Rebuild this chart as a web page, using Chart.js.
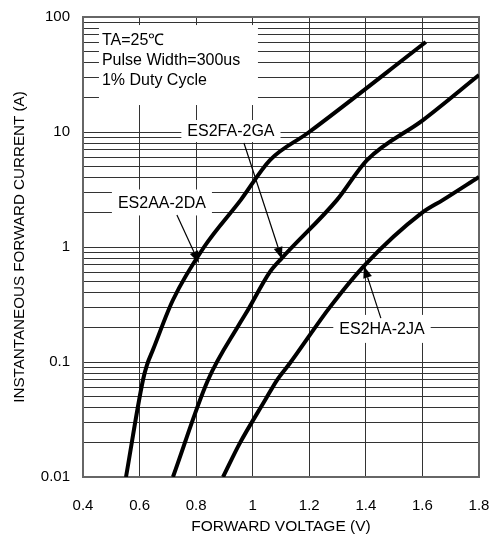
<!DOCTYPE html>
<html>
<head>
<meta charset="utf-8">
<script src="https://cdn.jsdelivr.net/npm/chart.js@4.4.0/dist/chart.umd.min.js"></script>
<style>
  body { margin: 0; background: #fff; }
  #wrap { width: 497px; height: 538px; position: relative; }
</style>
</head>
<body>
<div id="wrap"><canvas id="ivChart"></canvas></div>
<script>
// Forward voltage (V) -> instantaneous forward current (A)
const seriesNames = ['ES2AA-2DA', 'ES2FA-2GA', 'ES2HA-2JA'];

const aaVolts = [0.552, 0.612, 0.626, 0.647, 0.718, 0.828, 0.958, 1.061, 1.195, 1.612];
const aaAmps  = [0.01, 0.0697, 0.094, 0.127, 0.346, 1.0, 2.57, 5.7, 9.8, 60.6];

const faVolts = [0.718, 0.842, 0.955, 0.983, 1.061, 1.103, 1.298, 1.404, 1.602, 1.8];
const faAmps  = [0.01, 0.0697, 0.218, 0.283, 0.607, 0.80, 2.57, 5.7, 12.7, 31.3];

const haVolts = [0.895, 0.955, 1.044, 1.086, 1.132, 1.273, 1.397, 1.598, 1.673, 1.8];
const haAmps  = [0.01, 0.0198, 0.0467, 0.0697, 0.098, 0.30, 0.70, 1.98, 2.57, 4.07];

const xTickLabels = ['0.4', '0.6', '0.8', '1', '1.2', '1.4', '1.6', '1.8'];
const yDecades = [0.01, 0.1, 1, 10, 100];
const yTickLabels = ['0.01', '0.1', '1', '10', '100'];
const testNotes = ['TA=25\u2103', 'Pulse Width=300us', '1% Duty Cycle'];

// minor log grid: 1..9 in every decade
const yGrid = [];
yDecades.forEach((d, i) => {
  if (i === yDecades.length - 1) { yGrid.push(d); return; }
  for (let m = 1; m <= 9; m++) yGrid.push(+(d * m).toPrecision(3));
});

const toPoints = (xs, ys) => xs.map((x, i) => ({ x: x, y: ys[i] }));

// label boxes + arrows, placed in data units
const callouts = [
  { name: seriesNames[0], at: [0.679, 2.44], from: [0.732, 1.90], to: [0.81, 0.726], h: 26 },
  { name: seriesNames[1], at: [0.923, 10.2], from: [0.969, 8.02], to: [1.103, 0.787], h: 22 },
  { name: seriesNames[2], at: [1.457, 0.194], from: [1.453, 0.241], to: [1.393, 0.684], h: 28 }
];

const calloutPlugin = {
  id: 'callouts',
  beforeDatasetsDraw(chart) {
    const { ctx, chartArea: a, scales: { x, y } } = chart;
    ctx.save();
    // frame
    ctx.strokeStyle = '#666';
    ctx.lineWidth = 2;
    ctx.strokeRect(a.left, a.top, a.right - a.left, a.bottom - a.top);

    // test condition note
    const nx = x.getPixelForValue(0.467), ny = y.getPixelForValue(61.8);
    ctx.fillStyle = '#fff';
    ctx.fillRect(nx - 3, ny - 16, 159, 80);
    ctx.fillStyle = '#000';
    ctx.font = '16px "Liberation Sans", Arial, sans-serif';
    ctx.textAlign = 'left';
    ctx.textBaseline = 'middle';
    testNotes.forEach((t, i) => ctx.fillText(t, nx, ny + i * 20));

    // series labels
    ctx.textAlign = 'center';
    callouts.forEach(c => {
      const px = x.getPixelForValue(c.at[0]), py = y.getPixelForValue(c.at[1]);
      const w = ctx.measureText(c.name).width + 12;
      ctx.fillStyle = '#fff';
      ctx.fillRect(px - w / 2, py - c.h / 2, w, c.h);
      ctx.fillStyle = '#000';
      ctx.fillText(c.name, px, py + 1);
    });
    ctx.restore();
  },
  afterDatasetsDraw(chart) {
    const { ctx, scales: { x, y } } = chart;
    ctx.save();
    ctx.strokeStyle = '#000';
    ctx.fillStyle = '#000';
    ctx.lineWidth = 1.2;
    callouts.forEach(c => {
      const x0 = x.getPixelForValue(c.from[0]), y0 = y.getPixelForValue(c.from[1]);
      const x1 = x.getPixelForValue(c.to[0]), y1 = y.getPixelForValue(c.to[1]);
      const ang = Math.atan2(y1 - y0, x1 - x0);
      const len = 12, half = 4.5;
      const bx = x1 - len * Math.cos(ang), by = y1 - len * Math.sin(ang);
      ctx.beginPath();
      ctx.moveTo(x0, y0);
      ctx.lineTo(bx, by);
      ctx.stroke();
      ctx.beginPath();
      ctx.moveTo(x1, y1);
      ctx.lineTo(bx + half * Math.sin(ang), by - half * Math.cos(ang));
      ctx.lineTo(bx - half * Math.sin(ang), by + half * Math.cos(ang));
      ctx.closePath();
      ctx.fill();
    });
    ctx.restore();
  }
};

Chart.defaults.font.family = '"Liberation Sans", Arial, sans-serif';
Chart.defaults.color = '#000';

const curveStyle = {
  borderColor: '#000',
  borderWidth: 4,
  pointRadius: 0,
  fill: false,
  cubicInterpolationMode: 'monotone'
};

new Chart(document.getElementById('ivChart'), {
  type: 'line',
  data: {
    datasets: [
      { label: seriesNames[0], data: toPoints(aaVolts, aaAmps), ...curveStyle },
      { label: seriesNames[1], data: toPoints(faVolts, faAmps), ...curveStyle },
      { label: seriesNames[2], data: toPoints(haVolts, haAmps), ...curveStyle }
    ]
  },
  options: {
    responsive: true,
    maintainAspectRatio: false,
    animation: false,
    layout: { padding: { left: 0, top: 17, right: 18, bottom: 0 } },
    plugins: { legend: { display: false }, tooltip: { enabled: false } },
    scales: {
      x: {
        type: 'linear',
        min: 0.4,
        max: 1.8,
        afterFit: s => { s.height = 61; s.paddingLeft = 0; s.paddingRight = 0; },
        ticks: {
          stepSize: 0.2,
          padding: 20,
          font: { size: 15 },
          callback: (v, i) => xTickLabels[i]
        },
        grid: { color: '#333', lineWidth: 1, drawTicks: false },
        border: { display: false },
        title: {
          display: true,
          text: 'FORWARD VOLTAGE (V)',
          font: { size: 15.5 },
          padding: { top: 0, bottom: 2 }
        }
      },
      y: {
        type: 'logarithmic',
        min: 0.01,
        max: 100,
        afterFit: s => { s.width = 83; s.paddingTop = 0; s.paddingBottom = 0; },
        afterBuildTicks: s => { s.ticks = yGrid.map(v => ({ value: v })); },
        ticks: {
          autoSkip: false,
          padding: 13,
          font: { size: 15 },
          callback: v => {
            const k = yDecades.findIndex(d => Math.abs(d - v) / d < 1e-6);
            return k >= 0 ? yTickLabels[k] : '';
          }
        },
        grid: { color: '#333', lineWidth: 1, drawTicks: false },
        border: { display: false },
        title: {
          display: true,
          text: 'INSTANTANEOUS FORWARD CURRENT (A)',
          font: { size: 15.2 },
          padding: { top: 11, bottom: 0 }
        }
      }
    }
  },
  plugins: [calloutPlugin]
});
</script>
</body>
</html>
